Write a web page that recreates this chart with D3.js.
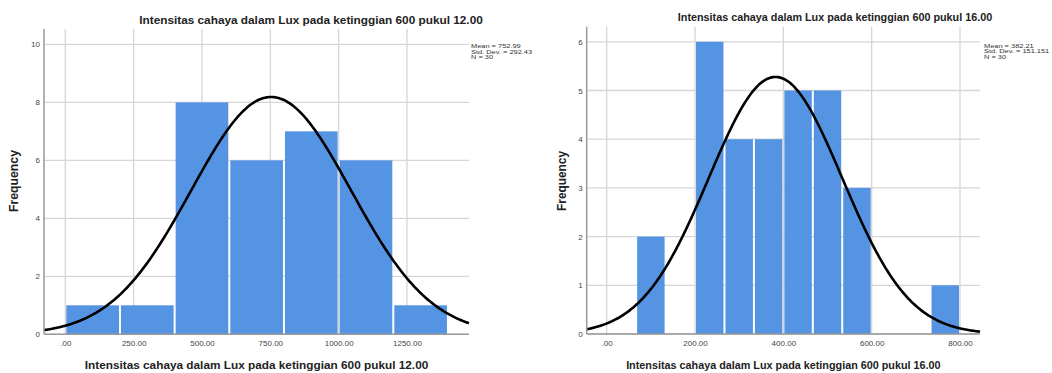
<!DOCTYPE html>
<html>
<head>
<meta charset="utf-8">
<script src="https://cdn.jsdelivr.net/npm/d3@7"></script>
<style>
    body { margin: 0; background: #fff; }
    text { font-family: "Liberation Sans", Arial, sans-serif; }
</style>
</head>
<body>
<div id="chart"></div>
<script>

// histogram 1 : pukul 12.00
const noonBinStart = [0, 200, 400, 600, 800, 1000, 1200];
const noonCounts = [1, 1, 8, 6, 7, 6, 1];
const noonBinWidth = 200;
const noonXTicks = [0, 250, 500, 750, 1000, 1250];
const noonXLabels = [".00", "250.00", "500.00", "750.00", "1000.00", "1250.00"];
const noonYTicks = [0, 2, 4, 6, 8, 10];
const noonStats = ["Mean = 752.99", "Std. Dev. = 292.43", "N = 30"];
const noonMean = 752.99, noonSd = 292.43, noonN = 30;
const noonTitle = "Intensitas cahaya dalam Lux pada ketinggian 600 pukul 12.00";

// histogram 2 : pukul 16.00
const pmBinStart = [66.67, 200, 266.67, 333.33, 400, 466.67, 533.33, 733.33];
const pmCounts = [2, 6, 4, 4, 5, 5, 3, 1];
const pmBinWidth = 66.67;
const pmXTicks = [0, 200, 400, 600, 800];
const pmXLabels = [".00", "200.00", "400.00", "600.00", "800.00"];
const pmYTicks = [0, 1, 2, 3, 4, 5, 6];
const pmStats = ["Mean = 382.21", "Std. Dev. = 151.151", "N = 30"];
const pmMean = 382.21, pmSd = 151.151, pmN = 30;
const pmTitle = "Intensitas cahaya dalam Lux pada ketinggian 600 pukul 16.00";

const barColor = "#5594e3";
const gridColor = "#d6d6d6";

let svg = d3.select("#chart").append("svg")
    .attr("width", 1052)
    .attr("height", 373);

// fit text to a target width
function fitText(sel, target) {
    let w = sel.node().getComputedTextLength();
    let fs = parseFloat(sel.attr("font-size"));
    sel.attr("font-size", fs * target / w);
}

function drawHist(cfg) {
    let g = svg.append("g");

    let x = d3.scaleLinear().domain(cfg.xDomain).range([cfg.left, cfg.right]);
    let y = d3.scaleLinear().domain(cfg.yDomain).range([cfg.bottom, cfg.top]);

    // grid
    g.selectAll(".vgrid").data(cfg.xTicks).enter().append("line")
        .attr("x1", d => x(d)).attr("x2", d => x(d))
        .attr("y1", cfg.top).attr("y2", cfg.bottom)
        .attr("stroke", gridColor).attr("stroke-width", 1.3);

    g.selectAll(".hgrid").data(cfg.yTicks).enter().append("line")
        .attr("x1", cfg.left).attr("x2", cfg.right)
        .attr("y1", d => y(d)).attr("y2", d => y(d))
        .attr("stroke", gridColor).attr("stroke-width", 1.3);

    // bars
    g.selectAll("rect").data(cfg.binStart).enter().append("rect")
        .attr("x", d => x(d) + 1)
        .attr("y", (d, i) => y(cfg.counts[i]))
        .attr("width", d => x(d + cfg.binWidth) - x(d) - 2)
        .attr("height", (d, i) => y(0) - y(cfg.counts[i]))
        .attr("fill", barColor);

    // normal curve
    let pts = d3.range(0, 301).map(i => cfg.xDomain[0] + i * (cfg.xDomain[1] - cfg.xDomain[0]) / 300);
    let line = d3.line()
        .x(d => x(d))
        .y(d => y(cfg.n * cfg.binWidth / (cfg.sd * Math.sqrt(2 * Math.PI)) * Math.exp(-0.5 * Math.pow((d - cfg.mean) / cfg.sd, 2))))
        .curve(d3.curveBasis);
    g.append("path").datum(pts)
        .attr("d", line)
        .attr("fill", "none")
        .attr("stroke", "#000")
        .attr("stroke-width", 2.6);

    // axes
    let xAxis = d3.axisBottom(x).tickValues(cfg.xTicks).tickSize(0).tickPadding(6)
        .tickFormat((d, i) => cfg.xLabels[i]);
    let xg = g.append("g").attr("transform", `translate(0, ${cfg.bottom})`).call(xAxis);
    xg.select(".domain").remove();
    xg.selectAll("text").attr("font-size", 8).attr("fill", "#444").style("font-family", "'Liberation Sans', Arial, sans-serif");

    let yAxis = d3.axisLeft(y).tickValues(cfg.yTicks).tickSize(0).tickPadding(4)
        .tickFormat(d3.format("d"));
    let yg = g.append("g").attr("transform", `translate(${cfg.left}, 0)`).call(yAxis);
    yg.select(".domain").remove();
    yg.selectAll("text").attr("font-size", 8).attr("fill", "#444").style("font-family", "'Liberation Sans', Arial, sans-serif");

    g.append("line")
        .attr("x1", cfg.left).attr("x2", cfg.right)
        .attr("y1", cfg.bottom).attr("y2", cfg.bottom)
        .attr("stroke", "#999").attr("stroke-width", 1.5);
    g.append("line")
        .attr("x1", cfg.left).attr("x2", cfg.left)
        .attr("y1", cfg.top).attr("y2", cfg.bottom)
        .attr("stroke", "#999").attr("stroke-width", 1.5);

    // texts
    let title = g.append("text")
        .attr("x", cfg.titleX).attr("y", cfg.titleY)
        .attr("text-anchor", "middle")
        .attr("font-size", 12).attr("font-weight", "bold").attr("fill", "#222")
        .text(cfg.title);
    fitText(title, cfg.titleW);

    let xlab = g.append("text")
        .attr("x", (cfg.left + cfg.right) / 2).attr("y", 369)
        .attr("text-anchor", "middle")
        .attr("font-size", 12).attr("font-weight", "bold").attr("fill", "#222")
        .text(cfg.title);
    fitText(xlab, cfg.titleW);

    let ylab = g.append("text")
        .attr("transform", `translate(${cfg.yLabX}, 181) rotate(-90)`)
        .attr("text-anchor", "middle")
        .attr("font-size", 12).attr("font-weight", "bold").attr("fill", "#222")
        .text("Frequency");
    fitText(ylab, cfg.yLabW);

    // stats box, slightly wide glyphs like the SPSS output
    let sg = g.append("g")
        .attr("transform", `translate(${cfg.statX}, ${cfg.statY}) scale(1.2, 1)`);
    sg.selectAll(".stat").data(cfg.stats).enter().append("text")
        .attr("x", 0)
        .attr("y", (d, i) => i * 5.4)
        .attr("font-size", 6.2).attr("fill", "#333")
        .text(d => d);
}

drawHist({
    left: 44, right: 469, top: 29, bottom: 334.3,
    xDomain: [-78, 1477], yDomain: [0, 10.53],
    binStart: noonBinStart, counts: noonCounts, binWidth: noonBinWidth,
    xTicks: noonXTicks, xLabels: noonXLabels, yTicks: noonYTicks,
    mean: noonMean, sd: noonSd, n: noonN,
    title: noonTitle, titleX: 311, titleY: 24, titleW: 344,
    yLabX: 18, yLabW: 62,
    stats: noonStats, statX: 471, statY: 48.3
});

drawHist({
    left: 586.7, right: 980, top: 26.7, bottom: 334,
    xDomain: [-45.3, 845.3], yDomain: [0, 6.31],
    binStart: pmBinStart, counts: pmCounts, binWidth: pmBinWidth,
    xTicks: pmXTicks, xLabels: pmXLabels, yTicks: pmYTicks,
    mean: pmMean, sd: pmSd, n: pmN,
    title: pmTitle, titleX: 835, titleY: 21, titleW: 315,
    yLabX: 566, yLabW: 60,
    stats: pmStats, statX: 984, statY: 48
});

</script>
</body>
</html>
